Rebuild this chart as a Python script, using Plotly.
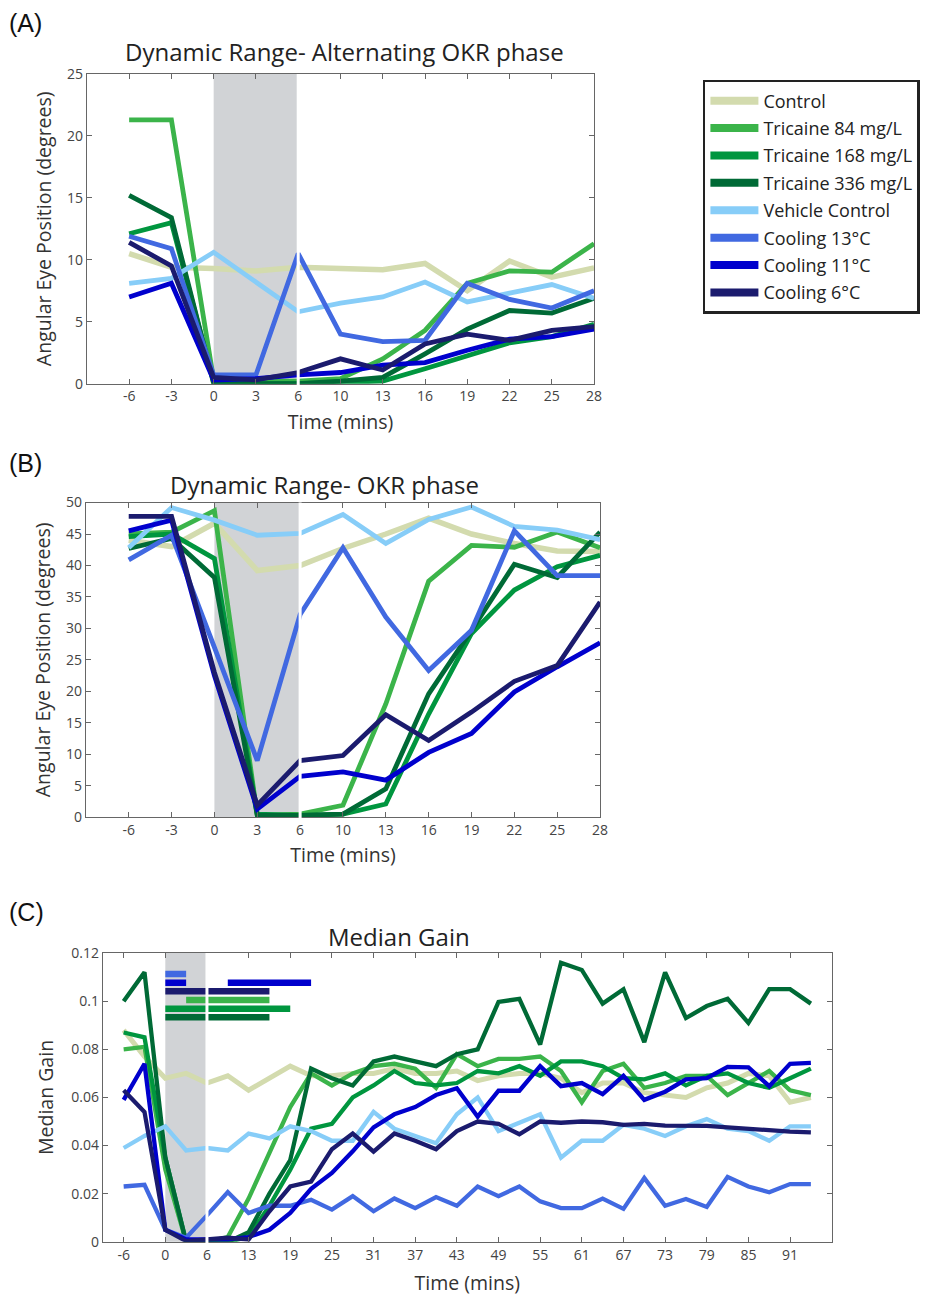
import plotly.graph_objects as go

W, H = 937, 1298

# ---------------- data ----------------
times_ab = ["-6", "-3", "0", "3", "6", "10", "13", "16", "19", "22", "25", "28"]
times_c = ["-6", "-3", "0", "3", "6", "10", "13", "16", "19", "22", "25", "28", "31", "34",
           "37", "40", "43", "46", "49", "52", "55", "58", "61", "64", "67", "70", "73", "76",
           "79", "82", "85", "88", "91", "94"]
c_tick_labels = times_c[::2]

series_names = ["Control", "Tricaine 84 mg/L", "Tricaine 168 mg/L", "Tricaine 336 mg/L",
                "Vehicle Control", "Cooling 13°C", "Cooling 11°C", "Cooling 6°C"]
series_colors = ["#d3dbae", "#3bb44a", "#00963f", "#006a36",
                 "#87cdf8", "#4169e1", "#0000cd", "#1b1b6e"]

# Panel A: Dynamic Range - Alternating OKR phase (degrees)
a_control = [10.5, 9.4, 9.3, 9.1, 9.4, 9.35, 9.2, 9.7, 7.5, 9.9, 8.6, 9.35]
a_tri84 = [21.3, 21.3, 0.3, 0.2, 0.2, 0.4, 2.0, 4.3, 8.1, 9.1, 9.0, 11.3]
a_tri168 = [12.1, 13.0, 0.1, 0.0, 0.0, 0.1, 0.2, 1.2, 2.2, 3.3, 3.8, 4.8]
a_tri336 = [15.2, 13.4, 0.0, 0.0, 0.0, 0.2, 0.5, 2.4, 4.4, 5.9, 5.7, 6.9]
a_vehicle = [8.1, 8.5, 10.6, 8.2, 5.8, 6.5, 7.0, 8.2, 6.6, 7.3, 8.0, 6.9]
a_cool13 = [11.9, 10.9, 0.7, 0.7, 10.5, 4.0, 3.4, 3.5, 8.1, 6.8, 6.1, 7.5]
a_cool11 = [7.0, 8.1, 0.3, 0.4, 0.7, 0.9, 1.5, 1.7, 2.7, 3.6, 3.8, 4.4]
a_cool6 = [11.4, 9.5, 0.5, 0.3, 0.9, 2.0, 1.1, 3.2, 4.0, 3.5, 4.3, 4.6]

# Panel B: Dynamic Range - OKR phase (degrees)
b_control = [44.0, 43.0, 46.7, 39.2, 40.0, 42.7, 45.0, 47.5, 45.0, 43.5, 42.3, 42.2]
b_tri84 = [45.0, 45.3, 48.7, 0.3, 0.5, 1.9, 18.0, 37.5, 43.2, 42.9, 45.3, 42.8]
b_tri168 = [44.6, 45.0, 41.1, 0.5, 0.3, 0.5, 2.1, 16.4, 29.2, 36.1, 39.8, 41.6]
b_tri336 = [42.7, 44.3, 38.1, 0.3, 0.3, 0.5, 4.5, 19.6, 29.7, 40.2, 38.1, 45.3]
b_vehicle = [42.8, 49.2, 47.2, 44.8, 45.1, 48.1, 43.5, 47.3, 49.3, 46.2, 45.6, 44.1]
b_cool13 = [40.9, 44.8, 27.0, 9.0, 32.2, 42.8, 31.8, 23.3, 29.7, 45.5, 38.4, 38.4]
b_cool11 = [45.5, 47.2, 22.5, 1.3, 6.5, 7.2, 5.9, 10.3, 13.3, 19.9, 23.9, 27.7]
b_cool6 = [47.8, 47.8, 23.0, 1.9, 9.0, 9.8, 16.3, 12.2, 16.7, 21.6, 24.1, 34.2]

# Panel C: Median Gain
c_control = [0.088, 0.077, 0.068, 0.070, 0.066, 0.069, 0.063, 0.068, 0.073, 0.069, 0.069, 0.070,
             0.070, 0.072, 0.070, 0.070, 0.071, 0.067, 0.069, 0.070, 0.070, 0.068, 0.062, 0.066,
             0.066, 0.062, 0.061, 0.060, 0.064, 0.066, 0.070, 0.069, 0.058, 0.060]
c_tri84 = [0.080, 0.081, 0.030, 0.000, 0.000, 0.002, 0.018, 0.037, 0.056, 0.070, 0.065, 0.070,
           0.073, 0.074, 0.072, 0.064, 0.078, 0.073, 0.076, 0.076, 0.077, 0.071, 0.058, 0.071,
           0.074, 0.064, 0.066, 0.069, 0.069, 0.061, 0.066, 0.071, 0.063, 0.061]
c_tri168 = [0.087, 0.085, 0.035, 0.000, 0.000, 0.000, 0.002, 0.015, 0.030, 0.047, 0.049, 0.060,
            0.065, 0.071, 0.066, 0.065, 0.066, 0.071, 0.070, 0.073, 0.069, 0.075, 0.075, 0.073,
            0.068, 0.0675, 0.070, 0.065, 0.069, 0.070, 0.066, 0.064, 0.068, 0.072]
c_tri336 = [0.100, 0.112, 0.035, 0.000, 0.000, 0.000, 0.004, 0.020, 0.034, 0.072, 0.068, 0.065,
            0.075, 0.077, 0.075, 0.073, 0.078, 0.080, 0.0997, 0.101, 0.082, 0.116, 0.113, 0.099,
            0.105, 0.083, 0.112, 0.093, 0.098, 0.101, 0.091, 0.105, 0.105, 0.099]
c_vehicle = [0.039, 0.044, 0.048, 0.038, 0.039, 0.038, 0.045, 0.043, 0.048, 0.046, 0.042, 0.042,
             0.054, 0.047, 0.044, 0.041, 0.053, 0.060, 0.046, 0.0496, 0.053, 0.035, 0.042, 0.042,
             0.0486, 0.047, 0.044, 0.048, 0.051, 0.047, 0.046, 0.042, 0.048, 0.048]
c_cool13 = [0.023, 0.0237, 0.005, 0.0017, 0.011, 0.0207, 0.012, 0.015, 0.015, 0.0175, 0.0134, 0.019,
            0.0127, 0.018, 0.014, 0.0186, 0.015, 0.023, 0.019, 0.023, 0.0168, 0.014, 0.014, 0.018,
            0.0137, 0.0265, 0.015, 0.0178, 0.0145, 0.027, 0.023, 0.0206, 0.024, 0.024]
c_cool11 = [0.059, 0.074, 0.005, 0.001, 0.001, 0.001, 0.002, 0.005, 0.012, 0.022, 0.0286, 0.0376,
            0.0476, 0.053, 0.056, 0.061, 0.0638, 0.052, 0.0628, 0.0628, 0.073, 0.0647, 0.066, 0.0614,
            0.069, 0.059, 0.0624, 0.0675, 0.068, 0.0727, 0.0725, 0.0647, 0.074, 0.0744]
c_cool6 = [0.063, 0.054, 0.005, 0.0003, 0.001, 0.0017, 0.001, 0.0127, 0.023, 0.025, 0.0385, 0.045,
           0.0375, 0.045, 0.042, 0.0385, 0.046, 0.050, 0.049, 0.0447, 0.050, 0.0495, 0.050, 0.0497,
           0.0486, 0.049, 0.0483, 0.0482, 0.0482, 0.0476, 0.047, 0.046, 0.0458, 0.0455]

# Significance periods in panel C (series index, start time, end time), top to bottom
sig_series = [5, 6, 6, 7, 1, 2, 3]
sig_row = [0, 1, 1, 2, 3, 4, 5]
sig_start = ["0", "0", "10", "0", "3", "0", "0"]
sig_end = ["3", "3", "22", "16", "16", "19", "16"]

panel_a = [a_control, a_tri84, a_tri168, a_tri336, a_vehicle, a_cool13, a_cool11, a_cool6]
panel_b = [b_control, b_tri84, b_tri168, b_tri336, b_vehicle, b_cool13, b_cool11, b_cool6]
panel_c = [c_control, c_tri84, c_tri168, c_tri336, c_vehicle, c_cool13, c_cool11, c_cool6]

# ---------------- figure ----------------
FONT = "Open Sans"
SX, SY, OY = 0.993, 0.9863, 9.0
fig = go.Figure()


def px_x(p):
    return (p / SX) / W


def px_y(p):
    return 1 - ((p - OY) / SY) / H


# legend entries (thick swatches, no data of their own)
for k, name in enumerate(series_names):
    fig.add_trace(go.Scatter(x=[None], y=[None], mode="lines", name=name,
                             legendgroup=str(k), showlegend=True, hoverinfo="skip",
                             line=dict(color=series_colors[k], width=8),
                             xaxis="x", yaxis="y"))

for k, name in enumerate(series_names):
    lw = 5.5 if k == 0 else 4.8
    fig.add_trace(go.Scatter(x=times_ab, y=panel_a[k], mode="lines", name=name,
                             legendgroup=str(k), showlegend=False,
                             line=dict(color=series_colors[k], width=lw),
                             xaxis="x", yaxis="y"))
for k, name in enumerate(series_names):
    lw = 5.5 if k == 0 else 4.8
    fig.add_trace(go.Scatter(x=times_ab, y=panel_b[k], mode="lines", name=name,
                             legendgroup=str(k), showlegend=False,
                             line=dict(color=series_colors[k], width=lw),
                             xaxis="x2", yaxis="y2"))
for k, name in enumerate(series_names):
    lw = 5.0 if k == 0 else 4.3
    fig.add_trace(go.Scatter(x=times_c, y=panel_c[k], mode="lines", name=name,
                             legendgroup=str(k), showlegend=False,
                             line=dict(color=series_colors[k], width=lw),
                             xaxis="x3", yaxis="y3"))

# significance bars
for s, r, a, b in zip(sig_series, sig_row, sig_start, sig_end):
    yv = 0.1113 - r * 0.0036
    fig.add_trace(go.Scatter(x=[a, b], y=[yv, yv], mode="lines", showlegend=False,
                             legendgroup=str(s), hoverinfo="skip",
                             line=dict(color=series_colors[s], width=6.5),
                             xaxis="x3", yaxis="y3"))

axis_common = dict(showline=True, linecolor="#666666", linewidth=1, mirror="ticks",
                   ticks="inside", ticklen=5, tickcolor="#666666", showgrid=False,
                   zeroline=False, tickfont=dict(family=FONT, size=14, color="#444444"))
title_font = dict(family=FONT, size=19.5, color="#333333")


def axtitle(t, so):
    return dict(text=t, font=title_font, standoff=so)


fig.update_layout(
    width=W, height=H, margin=dict(l=0, r=0, t=0, b=0), autosize=False,
    paper_bgcolor="white", plot_bgcolor="white",
    font=dict(family=FONT, color="#333333"),
    xaxis=dict(domain=[px_x(87), px_x(595)], anchor="y", type="category",
               range=[-1, 11], title=axtitle("Time (mins)", 10), **axis_common),
    yaxis=dict(domain=[px_y(383), px_y(73)], anchor="x", range=[0, 25],
               tickvals=[0, 5, 10, 15, 20, 25],
               title=axtitle("Angular Eye Position (degrees)", 10), **axis_common),
    xaxis2=dict(domain=[px_x(86), px_x(601)], anchor="y2", type="category",
                range=[-1, 11], title=axtitle("Time (mins)", 10), **axis_common),
    yaxis2=dict(domain=[px_y(817), px_y(502)], anchor="x2", range=[0, 50],
                tickvals=list(range(0, 51, 5)),
                title=axtitle("Angular Eye Position (degrees)", 10), **axis_common),
    xaxis3=dict(domain=[px_x(103), px_x(833)], anchor="y3", type="category",
                range=[-1, 34], tickvals=c_tick_labels, title=axtitle("Time (mins)", 13),
                **axis_common),
    yaxis3=dict(domain=[px_y(1242), px_y(953)], anchor="x3", range=[0, 0.12],
                tickvals=[0, 0.02, 0.04, 0.06, 0.08, 0.1, 0.12],
                title=axtitle("Median Gain", 12), **axis_common),
    legend=dict(x=px_x(704), y=px_y(79), xanchor="left", yanchor="top",
                bgcolor="white", bordercolor="#222222", borderwidth=2.5,
                font=dict(family=FONT, size=18, color="#222222"),
                tracegroupgap=1, itemwidth=48),
)

shapes = []
for xr, yr in [("x", "y domain"), ("x2", "y2 domain"), ("x3", "y3 domain")]:
    shapes.append(dict(type="rect", xref=xr, yref=yr, x0=2, x1=4, y0=0, y1=1,
                       fillcolor="#d1d3d6", line=dict(width=0), layer="below"))
    shapes.append(dict(type="line", xref=xr, yref=yr, x0=4, x1=4, y0=-0.015, y1=1,
                       line=dict(color="white", width=3), layer="above"))
fig.update_layout(shapes=shapes)

ann = []
# panel labels
for lab, yp in [("(A)", 22), ("(B)", 462), ("(C)", 912)]:
    ann.append(dict(text=lab, x=px_x(7), y=px_y(yp), xref="paper", yref="paper",
                    xanchor="left", yanchor="middle", showarrow=False,
                    font=dict(family="Liberation Sans", size=25, color="#111111")))
# titles
for t, xp, yp in [("Dynamic Range- Alternating OKR phase", 345, 51),
                  ("Dynamic Range- OKR phase", 325, 484),
                  ("Median Gain", 400, 936)]:
    ann.append(dict(text=t, x=px_x(xp), y=px_y(yp), xref="paper", yref="paper",
                    xanchor="center", yanchor="middle", showarrow=False,
                    font=dict(family=FONT, size=24, color="#222222")))
fig.update_layout(annotations=ann)

fig.write_html("out.html")
